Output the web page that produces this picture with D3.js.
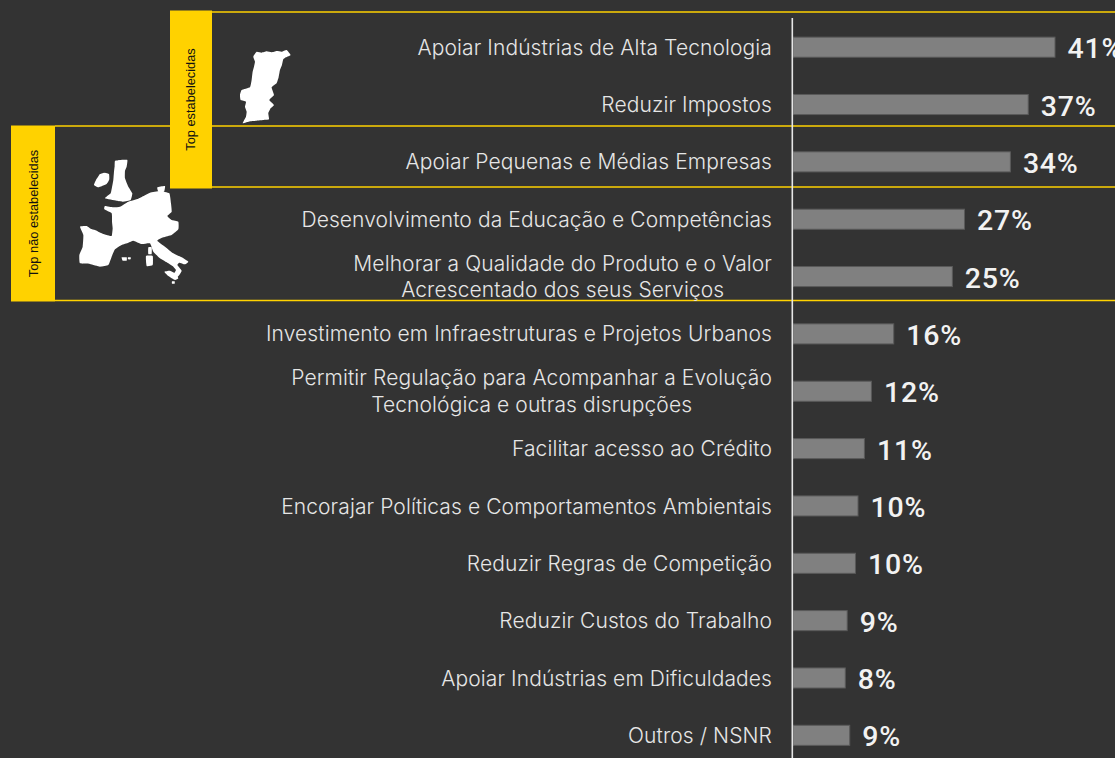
<!DOCTYPE html>
<html>
<head>
<meta charset="utf-8">
<script src="https://cdn.jsdelivr.net/npm/d3@7"></script>
<style>
html,body{margin:0;padding:0;background:#333333;overflow:hidden;}
.canvas{width:1115px;height:758px;}
</style>
</head>
<body>
<div class="canvas" id="canvas"></div>
<script>
var categories = [
    'Apoiar Indústrias de Alta Tecnologia',
    'Reduzir Impostos',
    'Apoiar Pequenas e Médias Empresas',
    'Desenvolvimento da Educação e Competências',
    'Melhorar a Qualidade do Produto e o Valor|Acrescentado dos seus Serviços',
    'Investimento em Infraestruturas e Projetos Urbanos',
    'Permitir Regulação para Acompanhar a Evolução|Tecnológica e outras disrupções',
    'Facilitar acesso ao Crédito',
    'Encorajar Políticas e Comportamentos Ambientais',
    'Reduzir Regras de Competição',
    'Reduzir Custos do Trabalho',
    'Apoiar Indústrias em Dificuldades',
    'Outros / NSNR'
];
var values = [41.1, 36.9, 34.1, 26.9, 25.0, 15.8, 12.3, 11.2, 10.2, 9.8, 8.5, 8.2, 8.9];

var groupLabels = ['Top estabelecidas', 'Top não estabelecidas'];

// map silhouettes
var portugal = [[770,155],[785,158],[800,154],[815,157],[830,153],[845,155],[860,150],[872,165],[858,172],[850,178],[846,195],[840,210],[836,232],[830,250],[815,262],[822,285],[808,300],[822,315],[812,325],[805,340],[807,358],[790,360],[770,362],[750,364],[728,370],[738,350],[740,335],[735,320],[738,305],[722,300],[720,285],[725,270],[750,262],[755,240],[758,215],[762,200],[765,185],[760,170]];
var europe = [
    // mainland
    [[30,230],[50,228],[62,236],[75,240],[95,250],[110,255],[125,258],[128,235],[126,215],[125,190],[103,178],[105,168],[130,172],[150,170],[175,155],[205,146],[225,136],[240,128],[270,123],[298,130],[303,160],[305,185],[292,198],[305,210],[325,215],[325,238],[305,255],[280,262],[262,272],[285,290],[310,310],[335,322],[355,335],[345,343],[328,338],[322,345],[335,362],[328,375],[318,385],[310,375],[318,360],[310,350],[295,340],[270,325],[250,305],[240,280],[215,282],[190,272],[175,278],[155,285],[135,298],[125,320],[115,345],[90,350],[60,342],[30,340],[28,315],[38,290],[40,255]],
    // britain
    [[135,33],[150,30],[172,30],[170,50],[165,62],[165,85],[175,110],[187,130],[182,150],[160,155],[140,152],[105,145],[122,130],[126,112],[130,90],[132,65],[134,48]],
    // ireland
    [[90,72],[105,68],[117,72],[118,88],[110,102],[85,112],[72,105],[78,90]],
    // sicily
    [[283,365],[300,362],[318,372],[325,385],[315,390],[295,378]],
    // corsica, sardinia
    [[235,292],[245,292],[245,312],[235,312]],
    [[228,318],[248,318],[248,345],[230,348]],
    // balearics
    [[155,322],[170,322],[170,332],[158,332]],
    [[174,322],[182,322],[182,328],[174,328]],
    // danish islands
    [[262,112],[285,108],[282,125],[265,125]],
    // malta
    [[306,394],[314,394],[314,401],[306,401]]
];

var W = 1115, H = 758;
var svg = d3.select('.canvas')
    .append('svg')
    .attr('width', W)
    .attr('height', H)
    .style('display','block');

var x0 = 793;

var scaleX = d3.scaleLinear().domain([0,41.1]).range([x0,1055]);
var scaleY = d3.scaleBand().domain(categories).range([18.5,764]).paddingInner(0.65).paddingOuter(0.325);

//Brackets first so the axis sits on top
var yellow = '#ffd200';
var lines = [12, 126, 187, 300.5];
var lineStart = [212, 55, 212, 55];
svg.selectAll('.rule')
    .data(lines)
    .enter()
    .append('line')
    .attr('class','rule')
    .attr('x1',function(d,i){return lineStart[i];})
    .attr('x2',W)
    .attr('y1',function(d){return d;})
    .attr('y2',function(d){return d;})
    .style('stroke',yellow)
    .style('stroke-width',1.7);

var boxes = [{x:170,y:10.5,w:42,h:178},{x:11,y:125.5,w:44,h:176}];
svg.selectAll('.box')
    .data(boxes)
    .enter()
    .append('rect')
    .attr('class','box')
    .attr('x',function(d){return d.x;})
    .attr('y',function(d){return d.y;})
    .attr('width',function(d){return d.w;})
    .attr('height',function(d){return d.h;})
    .style('fill',yellow);

svg.selectAll('.box-label')
    .data(groupLabels)
    .enter()
    .append('text')
    .attr('class','box-label')
    .attr('transform',function(d,i){
        return 'translate('+(boxes[i].x+boxes[i].w/2+(i==0?4:5))+','+(boxes[i].y+boxes[i].h/2)+') rotate(-90)';
    })
    .attr('text-anchor','middle')
    .style('font-family','"Liberation Sans"')
    .style('font-size','12.8px')
    .style('fill','#111')
    .text(function(d){return d;});

//Maps
var line = d3.line().curve(d3.curveCardinalClosed.tension(0.6));
svg.append('path')
    .attr('d',line(portugal))
    .attr('transform','scale(0.3333)')
    .style('fill','#fff');
svg.append('g')
    .attr('transform','translate(70,150) scale(0.3333)')
    .selectAll('path')
    .data(europe)
    .enter()
    .append('path')
    .attr('d',function(d){return line(d);})
    .style('fill','#fff');

//Bars
svg.selectAll('.bar')
    .data(values)
    .enter()
    .append('rect')
    .attr('class','bar')
    .attr('x',x0)
    .attr('y',function(d,i){return scaleY(categories[i]);})
    .attr('width',function(d){return scaleX(d)-x0;})
    .attr('height',scaleY.bandwidth())
    .style('fill','#808080')
    .style('stroke','#5a5a5a')
    .style('stroke-width',1);

svg.selectAll('.value')
    .data(values)
    .enter()
    .append('text')
    .attr('class','value')
    .attr('x',function(d){return scaleX(d)+12.5;})
    .attr('y',function(d,i){return scaleY(categories[i])+scaleY.bandwidth()/2+11;})
    .style('font-family','Roboto')
    .style('font-size','28.5px')
    .style('font-weight','500')
    .style('letter-spacing','0.8px')
    .style('fill','#f2f2f2')
    .text(function(d){return Math.round(d)+'%';});

//Category axis
var axis = d3.axisLeft(scaleY).tickSize(0).tickPadding(21);
var axisG = svg.append('g')
    .attr('class','axis')
    .attr('transform','translate('+x0+',0)')
    .call(axis);
axisG.select('.domain').remove();
axisG.append('line')
    .attr('x1',-0.7)
    .attr('x2',-0.7)
    .attr('y1',18)
    .attr('y2',H)
    .style('stroke','#e6e6e6')
    .style('stroke-width',1.6);

axisG.selectAll('.tick text')
    .style('font-family','Inter')
    .style('font-size','21px')
    .style('font-weight','300')
    .style('letter-spacing','0.1px')
    .style('fill','#e6e6e6')
    .each(function(d){
        var parts = d.split('|');
        var t = d3.select(this);
        t.text(null);
        var first = t.append('tspan')
            .attr('x',-21)
            .attr('dy', parts.length>1 ? '-0.28em' : '0.36em')
            .text(parts[0]);
        if(parts.length>1){
            //second line is centred under the first one
            var len = first.node().getComputedTextLength();
            t.append('tspan')
                .attr('x',-21-len/2)
                .attr('dy','1.26em')
                .attr('text-anchor','middle')
                .text(parts[1]);
        }
    });
</script>
</body>
</html>
